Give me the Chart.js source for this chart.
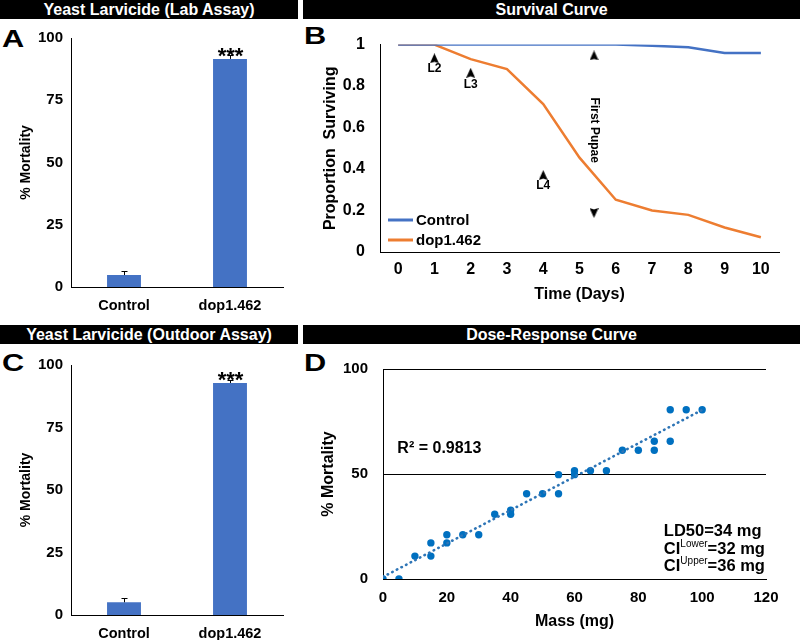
<!DOCTYPE html>
<html>
<head>
<meta charset="utf-8">
<script src="https://cdn.jsdelivr.net/npm/chart.js@4.4.0/dist/chart.umd.min.js"></script>
<style>
body { margin: 0; background: #fff; width: 800px; height: 640px; position: relative; overflow: hidden; font-family: "Liberation Sans", Arial, sans-serif; }
.hd { position: absolute; height: 19px; line-height: 19px; background: #000; color: #fff; font-weight: bold; font-size: 16px; text-align: center; }
.lt { position: absolute; font-weight: bold; font-size: 24px; line-height: 24px; transform: scaleX(1.28); transform-origin: left top; }
canvas { position: absolute; }
</style>
</head>
<body>
<div class="hd" style="left:0;top:0;width:298px">Yeast Larvicide (Lab Assay)</div>
<div class="hd" style="left:303px;top:0;width:497px">Survival Curve</div>
<div class="hd" style="left:0;top:325px;width:298px">Yeast Larvicide (Outdoor Assay)</div>
<div class="hd" style="left:303px;top:325px;width:497px">Dose-Response Curve</div>
<div class="lt" style="left:2px;top:27px">A</div>
<div class="lt" style="left:304px;top:24px">B</div>
<div class="lt" style="left:2px;top:351px">C</div>
<div class="lt" style="left:304px;top:351px">D</div>
<canvas id="chartA" width="298" height="300" style="left:0;top:20px"></canvas>
<canvas id="chartB" width="500" height="295" style="left:300px;top:20px"></canvas>
<canvas id="chartC" width="298" height="295" style="left:0;top:345px"></canvas>
<canvas id="chartD" width="500" height="295" style="left:300px;top:345px"></canvas>
<script>
// bar panels (A lab, C outdoor)
var groups = ['Control', 'dop1.462'];
var labMortality = [4.8, 91.6];
var labError = [1.6, 1.5];
var outdoorMortality = [5.1, 92.8];
var outdoorError = [1.6, 1.2];
var significance = ['', '***'];
var mortalityTicks = [0, 25, 50, 75, 100];

// survival curve (B)
var days = [0, 1, 2, 3, 4, 5, 6, 7, 8, 9, 10];
var controlSurvival = [1, 1, 1, 1, 1, 1, 1, 0.994, 0.987, 0.96, 0.96];
var dopSurvival = [1, 1, 0.93, 0.882, 0.713, 0.455, 0.252, 0.2, 0.179, 0.118, 0.071];
var survivalTicks = [0, 0.2, 0.4, 0.6, 0.8, 1];
var seriesNames = ['Control', 'dop1.462'];
var stageNames = ['L2', 'L3', 'L4'];
var stageDays = [1, 2, 4];
var stageLabelY = [0.883, 0.808, 0.319];
var arrowX = [1, 2, 4, 5.4, 5.4];
var arrowY = [0.934, 0.864, 0.371, 0.948, 0.188];
var arrowRotation = [0, 0, 0, 0, 180];
var pupaDay = 5.4;
var pupaLabelY = 0.587;

// dose-response (D)
var massMg = [0, 5, 10, 15, 15, 20, 20, 25, 30, 35, 40, 40, 45, 50, 55, 55, 60, 60, 65, 70, 75, 80, 85, 85, 90, 90, 95, 100];
var doseMortality = [0, 0, 10.9, 17.2, 10.9, 21.1, 17.2, 21.1, 21.1, 30.8, 32.8, 30.8, 40.6, 40.6, 49.7, 40.6, 51.6, 49.7, 51.6, 51.6, 61.3, 61.3, 65.6, 61.3, 65.6, 80.6, 80.6, 80.6];
var trendX = [0, 100];
var trendY = [1, 80.5];
var massTicks = [0, 20, 40, 60, 80, 100, 120];
var doseTicks = [0, 50, 100];
var rSquared = 'R² = 0.9813';
var ldText = ['LD50=34 mg', '=32 mg', '=36 mg'];
var ciSup = ['', 'Lower', 'Upper'];

var FONT = '"Liberation Sans", Arial, sans-serif';
Chart.defaults.font.family = FONT;
Chart.defaults.color = '#000';

function fixedTicks(list) {
    return function (s) { s.ticks = list.map(function (v) { return { value: v }; }); };
}

// small arrowhead used as point style
var arrowHead = document.createElement('canvas');
arrowHead.width = 9;
arrowHead.height = 10;
(function () {
    var c = arrowHead.getContext('2d');
    c.fillStyle = '#000';
    c.beginPath();
    c.moveTo(4.5, 0);
    c.lineTo(9, 10);
    c.lineTo(4.5, 8.6);
    c.lineTo(0, 10);
    c.closePath();
    c.fill();
})();

function barExtras(values, errors) {
    return {
        id: 'barExtras',
        afterDatasetsDraw: function (chart) {
            var ctx = chart.ctx, x = chart.scales.x, y = chart.scales.y;
            ctx.save();
            ctx.strokeStyle = '#000';
            ctx.lineWidth = 1;
            for (var i = 0; i < values.length; i++) {
                var px = Math.round(x.getPixelForValue(i)) + 0.5;
                var base = y.getPixelForValue(values[i]);
                var top = Math.round(y.getPixelForValue(values[i] + errors[i])) + 0.5;
                ctx.beginPath();
                ctx.moveTo(px, base);
                ctx.lineTo(px, top);
                ctx.moveTo(px - 3, top);
                ctx.lineTo(px + 3, top);
                ctx.stroke();
                if (significance[i]) {
                    ctx.fillStyle = '#000';
                    ctx.font = 'bold 22px ' + FONT;
                    ctx.textAlign = 'center';
                    ctx.textBaseline = 'alphabetic';
                    ctx.fillText(significance[i], px, base + 4);
                }
            }
            ctx.restore();
        }
    };
}

function barChart(id, values, errors, pad) {
    return new Chart(document.getElementById(id), {
        type: 'bar',
        data: {
            labels: groups,
            datasets: [{ data: values, backgroundColor: '#4472c4', barPercentage: 0.32, categoryPercentage: 1 }]
        },
        options: {
            responsive: false,
            animation: false,
            layout: { padding: { left: 0, top: pad.top, right: 15, bottom: 0 } },
            plugins: { legend: { display: false }, tooltip: { enabled: false } },
            scales: {
                x: {
                    grid: { display: false, drawTicks: false },
                    border: { color: '#000', width: 1 },
                    ticks: { font: { size: 14.5, weight: 'bold' }, padding: 10 },
                    afterFit: function (s) { s.height = pad.xh; }
                },
                y: {
                    min: 0, max: 100,
                    afterBuildTicks: fixedTicks(mortalityTicks),
                    grid: { display: false, drawTicks: false },
                    border: { color: '#000', width: 1 },
                    ticks: { font: { size: 15, weight: 'bold' }, padding: 8, callback: function (v) { return String(v); } },
                    title: { display: true, text: '% Mortality', font: { size: 14, weight: 'bold' }, padding: { top: 18, bottom: 0 } },
                    afterFit: function (s) { s.width = 71; }
                }
            }
        },
        plugins: [barExtras(values, errors)]
    });
}

barChart('chartA', labMortality, labError, { top: 18, xh: 33 });
barChart('chartC', outdoorMortality, outdoorError, { top: 20, xh: 25 });

function pts(xs, ys) {
    return xs.map(function (v, i) { return { x: v, y: ys[i] }; });
}

var survivalNotes = {
    id: 'survivalNotes',
    afterDatasetsDraw: function (chart) {
        var ctx = chart.ctx, x = chart.scales.x, y = chart.scales.y, a = chart.chartArea;
        ctx.save();
        ctx.fillStyle = '#000';
        ctx.font = 'bold 12px ' + FONT;
        ctx.textAlign = 'center';
        ctx.textBaseline = 'middle';
        stageNames.forEach(function (n, i) {
            ctx.fillText(n, x.getPixelForValue(stageDays[i]), y.getPixelForValue(stageLabelY[i]));
        });
        ctx.save();
        ctx.translate(x.getPixelForValue(pupaDay), y.getPixelForValue(pupaLabelY));
        ctx.rotate(Math.PI / 2);
        ctx.fillText('First Pupae', 0, 0);
        ctx.restore();
        // legend inside the plot
        var colors = ['#4472c4', '#ed7d31'];
        ctx.font = 'bold 15px ' + FONT;
        ctx.textAlign = 'left';
        ctx.lineWidth = 3;
        seriesNames.forEach(function (n, i) {
            var ly = a.bottom - 32 + i * 20;
            ctx.strokeStyle = colors[i];
            ctx.beginPath();
            ctx.moveTo(a.left + 8, ly);
            ctx.lineTo(a.left + 33, ly);
            ctx.stroke();
            ctx.fillText(n, a.left + 36, ly + 1);
        });
        ctx.restore();
    }
};

new Chart(document.getElementById('chartB'), {
    type: 'line',
    data: {
        datasets: [
            { data: pts(days, controlSurvival), borderColor: '#4472c4', borderWidth: 2.5, pointRadius: 0, tension: 0 },
            { data: pts(days, dopSurvival), borderColor: '#ed7d31', borderWidth: 2.5, pointRadius: 0, tension: 0 },
            { type: 'scatter', data: pts(arrowX, arrowY), pointStyle: arrowHead, pointRotation: arrowRotation }
        ]
    },
    options: {
        responsive: false,
        animation: false,
        layout: { padding: { left: 0, top: 19, right: 21, bottom: 0 } },
        plugins: { legend: { display: false }, tooltip: { enabled: false } },
        scales: {
            x: {
                type: 'linear', min: -0.5, max: 10.5,
                afterBuildTicks: fixedTicks(days),
                grid: { display: false, drawTicks: false },
                border: { color: '#000', width: 1 },
                ticks: { font: { size: 16, weight: 'bold' }, padding: 8, autoSkip: false, maxRotation: 0, callback: function (v) { return String(v); } },
                title: { display: true, text: 'Time (Days)', font: { size: 16, weight: 'bold' }, padding: { top: 0, bottom: 11 } },
                afterFit: function (s) { s.height = 63; }
            },
            y: {
                min: 0, max: 1,
                afterBuildTicks: fixedTicks(survivalTicks),
                grid: { display: false, drawTicks: false },
                border: { color: '#000', width: 1 },
                ticks: { font: { size: 16, weight: 'bold' }, padding: 15, callback: function (v) { return String(v); } },
                title: { display: true, text: 'Proportion  Surviving', font: { size: 16, weight: 'bold' }, padding: { top: 21, bottom: 0 } },
                afterFit: function (s) { s.width = 80; }
            }
        }
    },
    plugins: [survivalNotes]
});

var doseNotes = {
    id: 'doseNotes',
    afterDatasetsDraw: function (chart) {
        var ctx = chart.ctx, x = chart.scales.x, y = chart.scales.y;
        ctx.save();
        ctx.fillStyle = '#000';
        ctx.textBaseline = 'middle';
        ctx.textAlign = 'left';
        ctx.font = 'bold 16px ' + FONT;
        ctx.fillText(rSquared, x.getPixelForValue(4.5), y.getPixelForValue(62));
        var lx = x.getPixelForValue(88);
        var rows = [22.5, 14, 6];
        ldText.forEach(function (t, i) {
            var ly = y.getPixelForValue(rows[i]);
            var cx = lx;
            ctx.font = 'bold 16.5px ' + FONT;
            if (ciSup[i]) {
                ctx.fillText('CI', cx, ly);
                cx += ctx.measureText('CI').width;
                ctx.font = '10px ' + FONT;
                ctx.fillText(ciSup[i], cx, ly - 5);
                cx += ctx.measureText(ciSup[i]).width;
                ctx.font = 'bold 16.5px ' + FONT;
            }
            ctx.fillText(t, cx, ly);
        });
        ctx.restore();
    }
};

new Chart(document.getElementById('chartD'), {
    type: 'scatter',
    data: {
        datasets: [
            { type: 'line', data: pts(trendX, trendY), borderColor: '#2e75b6', borderWidth: 2.6, borderDash: [0.5, 4.7],
              borderCapStyle: 'round', pointRadius: 0, order: 0 },
            { data: pts(massMg, doseMortality), backgroundColor: '#0070c0', borderWidth: 0, pointRadius: 3.7, order: 1 }
        ]
    },
    options: {
        responsive: false,
        animation: false,
        layout: { padding: { left: 0, top: 21, right: 34, bottom: 0 } },
        plugins: { legend: { display: false }, tooltip: { enabled: false } },
        scales: {
            x: {
                type: 'linear', min: 0, max: 120,
                afterBuildTicks: fixedTicks(massTicks),
                grid: { display: false, drawTicks: false },
                border: { color: '#000', width: 1 },
                ticks: { font: { size: 15, weight: 'bold' }, padding: 10, autoSkip: false, maxRotation: 0, callback: function (v) { return String(v); } },
                title: { display: true, text: 'Mass (mg)', font: { size: 16, weight: 'bold' }, padding: { top: 0, bottom: 9 } },
                afterFit: function (s) { s.height = 61; }
            },
            y: {
                min: 0, max: 100,
                afterBuildTicks: fixedTicks(doseTicks),
                grid: { color: '#000', lineWidth: 1, drawTicks: false },
                border: { color: '#000', width: 1 },
                ticks: { font: { size: 15, weight: 'bold' }, padding: 15, callback: function (v) { return String(v); } },
                title: { display: true, text: '% Mortality', font: { size: 16, weight: 'bold' }, padding: { top: 19, bottom: 0 } },
                afterFit: function (s) { s.width = 83; }
            }
        }
    },
    plugins: [doseNotes]
});
</script>
</body>
</html>
